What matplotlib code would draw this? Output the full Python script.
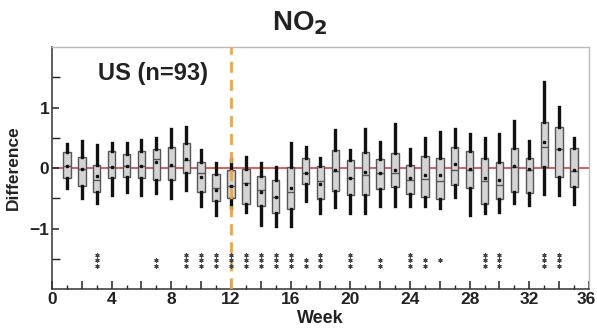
import matplotlib
matplotlib.use("Agg")
import matplotlib.pyplot as plt
import matplotlib.transforms as mtrans
import numpy as np

plt.rcParams['font.family'] = ['Liberation Sans', 'DejaVu Sans']

# weekly difference statistics (US, n=93)
weeks = list(range(1, 36))
whisk_hi = [0.39, 0.45, 0.38, 0.41, 0.42, 0.46, 0.49, 0.64, 0.67, 0.30,
            0.08, 0.15, 0.19, 0.08, 0.01, 0.42, 0.34, 0.17, 0.62, 0.30,
            0.64, 0.43, 0.72, 0.31, 0.50, 0.60, 0.64, 0.57, 0.49, 0.57,
            0.77, 0.44, 1.42, 1.01, 0.49]
q3 = [0.27, 0.19, 0.05, 0.28, 0.23, 0.28, 0.31, 0.35, 0.41, 0.10,
      -0.10, -0.04, -0.02, -0.14, -0.20, 0.01, 0.17, 0.03, 0.30, 0.13,
      0.27, 0.15, 0.25, 0.05, 0.20, 0.17, 0.34, 0.28, 0.17, 0.10,
      0.33, 0.17, 0.76, 0.68, 0.33]
medians = [0.03, -0.02, -0.20, 0.02, 0.04, 0.03, 0.15, 0.04, 0.13, -0.08,
           -0.33, -0.29, -0.24, -0.37, -0.48, -0.39, -0.09, -0.21, -0.05, -0.16,
           -0.11, -0.09, -0.09, -0.20, -0.18, -0.21, -0.04, -0.03, -0.22, -0.28,
           0.02, -0.03, 0.34, 0.31, -0.05]
means = [0.04, -0.02, -0.13, 0.02, 0.04, 0.03, 0.10, 0.05, 0.15, -0.15,
         -0.36, -0.29, -0.27, -0.40, -0.48, -0.33, -0.08, -0.26, -0.03, -0.16,
         -0.06, -0.09, -0.03, -0.17, -0.11, -0.11, 0.07, -0.02, -0.16, -0.19,
         0.04, -0.02, 0.43, 0.31, -0.04]
q1 = [-0.16, -0.30, -0.40, -0.16, -0.15, -0.16, -0.20, -0.20, -0.09, -0.39,
      -0.54, -0.49, -0.59, -0.63, -0.74, -0.68, -0.27, -0.51, -0.38, -0.44,
      -0.44, -0.34, -0.32, -0.43, -0.48, -0.51, -0.28, -0.33, -0.59, -0.51,
      -0.40, -0.41, 0.01, -0.15, -0.31]
whisk_lo = [-0.33, -0.50, -0.58, -0.45, -0.40, -0.44, -0.41, -0.49, -0.37, -0.63,
            -0.77, -0.66, -0.72, -0.95, -0.96, -0.96, -0.54, -0.74, -0.64, -0.74,
            -0.75, -0.63, -0.63, -0.63, -0.63, -0.66, -0.48, -0.78, -0.75, -0.72,
            -0.58, -0.61, -0.43, -0.44, -0.59]
# number of significance stars per week
n_stars = [0, 0, 3, 0, 0, 0, 2, 0, 3, 3,
           3, 3, 3, 3, 3, 3, 2, 3, 0, 3,
           0, 2, 0, 3, 2, 1, 0, 0, 3, 3,
           0, 0, 3, 3, 0]

stats = []
for i in range(len(weeks)):
    stats.append({'whislo': whisk_lo[i], 'q1': q1[i], 'med': medians[i],
                  'q3': q3[i], 'whishi': whisk_hi[i], 'mean': means[i]})

fig = plt.figure(figsize=(5.97, 3.32), dpi=100)
ax = fig.add_axes([0.0871, 0.1295, 0.8995, 0.7289])

ax.axhline(0, color='#d04545', lw=1.2, zorder=1)

ax.bxp(stats, positions=weeks, widths=0.5, patch_artist=True, showmeans=True,
       showcaps=False, showfliers=False,
       boxprops=dict(facecolor='#d4d4d4', edgecolor='#555555', lw=1.0),
       medianprops=dict(color='#555555', lw=1.0),
       whiskerprops=dict(color='#111111', lw=2.4),
       meanprops=dict(marker='s', markersize=2.0, markerfacecolor='#111111',
                      markeredgecolor='#111111'),
       zorder=2)

ax.axvline(12, color='#f7a531', lw=2, ls=(0, (4, 2.5)), zorder=3)

# significance stars
for w, n in zip(weeks, n_stars):
    if n == 0:
        continue
    if n == 1:
        ys = [-1.52]
    else:
        ys = [-1.62, -1.52, -1.43][:n]
    ax.plot([w] * len(ys), ys, ls='none', marker=(6, 2, 0), ms=3,
            mew=0.8, color='#444444', zorder=3)

ax.set_xlim(0, 36)
ax.set_ylim(-2, 2)
ax.set_xticks(np.arange(0, 37, 2))
ax.set_xticklabels([str(v) if v % 4 == 0 else '' for v in range(0, 37, 2)])
ax.set_xticks(np.arange(0, 37, 1), minor=True)
ax.set_yticks([-1, 0, 1])
ax.set_yticks([-1.5, -0.5, 0.5, 1.5], minor=True)

ax.tick_params(which='major', direction='in', length=6, width=1.1,
               labelsize=12.5, pad=2, colors='#222222')
ax.tick_params(axis='x', which='minor', direction='in', length=3, width=1.0, colors='#222222')
ax.tick_params(axis='y', which='minor', direction='in', length=6, width=1.0, colors='#222222')
ax.tick_params(axis='y', which='major', length=5)
for lab in ax.get_xticklabels() + ax.get_yticklabels():
    lab.set_fontweight('bold')

# nudge the last x label so it stays inside the image
last = ax.get_xticklabels()[-1]
last.set_transform(last.get_transform() +
                   mtrans.ScaledTranslation(-3 / 100, 0, fig.dpi_scale_trans))

for s in ['left', 'bottom']:
    ax.spines[s].set_color('#333333')
    ax.spines[s].set_linewidth(1.1)
for s in ['top', 'right']:
    ax.spines[s].set_color('#bbbbbb')
    ax.spines[s].set_linewidth(1.0)

ax.set_xlabel('Week', fontsize=13, fontweight='bold', labelpad=2, color='#222222')
ax.set_ylabel('Difference', fontsize=12.5, fontweight='bold', labelpad=6, color='#222222')
ax.text(0.085, 0.89, 'US (n=93)', transform=ax.transAxes, fontsize=17,
        fontweight='bold', color='#222222', va='center', ha='left')
fig.text(0.503, 0.93, r'NO$_\mathbf{2}$', fontsize=20, fontweight='bold',
         ha='center', va='center', color='#222222')

plt.savefig('out.png', dpi=100)
plt.close()
